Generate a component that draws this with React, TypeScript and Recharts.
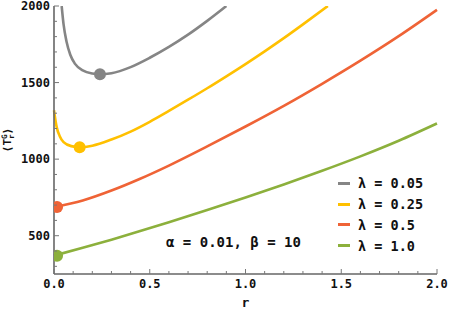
import {
  ComposedChart,
  Line,
  XAxis,
  YAxis,
  ReferenceDot,
} from "recharts";

// curves: r on x, <T_r^G> on y
const gray = [
  { r: 0.04, v: 2000 }, { r: 0.05, v: 1880 }, { r: 0.065, v: 1770 },
  { r: 0.085, v: 1682 }, { r: 0.11, v: 1622 }, { r: 0.15, v: 1580 },
  { r: 0.2, v: 1559 }, { r: 0.24, v: 1554 }, { r: 0.3, v: 1561 },
  { r: 0.4, v: 1601 }, { r: 0.5, v: 1662 }, { r: 0.6, v: 1733 },
  { r: 0.7, v: 1813 }, { r: 0.8, v: 1903 }, { r: 0.9, v: 2000 },
];
const yellow = [
  { r: 0, v: 1319 }, { r: 0.014, v: 1209 }, { r: 0.03, v: 1150 },
  { r: 0.05, v: 1111 }, { r: 0.09, v: 1085 }, { r: 0.134, v: 1078 },
  { r: 0.2, v: 1088 }, { r: 0.3, v: 1128 }, { r: 0.4, v: 1180 },
  { r: 0.5, v: 1244 }, { r: 0.6, v: 1315 }, { r: 0.7, v: 1388 },
  { r: 0.8, v: 1463 }, { r: 0.9, v: 1541 }, { r: 1.0, v: 1621 },
  { r: 1.1, v: 1704 }, { r: 1.2, v: 1790 }, { r: 1.3, v: 1880 },
  { r: 1.43, v: 2000 },
];
const orange = [
  { r: 0, v: 686 }, { r: 0.15, v: 730 }, { r: 0.3, v: 795 },
  { r: 0.45, v: 872 }, { r: 0.6, v: 958 }, { r: 0.8, v: 1083 },
  { r: 1.0, v: 1213 }, { r: 1.2, v: 1348 }, { r: 1.4, v: 1492 },
  { r: 1.6, v: 1643 }, { r: 1.8, v: 1803 }, { r: 2.0, v: 1975 },
];
const green = [
  { r: 0, v: 370 }, { r: 0.15, v: 421 }, { r: 0.3, v: 474 },
  { r: 0.45, v: 530 }, { r: 0.6, v: 588 }, { r: 0.8, v: 668 },
  { r: 1.0, v: 750 }, { r: 1.2, v: 835 }, { r: 1.4, v: 924 },
  { r: 1.6, v: 1018 }, { r: 1.8, v: 1120 }, { r: 2.0, v: 1233 },
];

const lambdas = ["0.05", "0.25", "0.5", "1.0"];
const colors = ["#858585", "#ffc000", "#ef6336", "#8cb03c"];
const curves = [gray, yellow, orange, green];
// minimum of each curve
const minima = [
  { r: 0.24, v: 1555 },
  { r: 0.134, v: 1078 },
  { r: 0.016, v: 687 },
  { r: 0.016, v: 369 },
];

const xTicks = [
  0, 0.1, 0.2, 0.3, 0.4, 0.5, 0.6, 0.7, 0.8, 0.9, 1.0,
  1.1, 1.2, 1.3, 1.4, 1.5, 1.6, 1.7, 1.8, 1.9, 2.0,
];
const yTicks = [
  300, 400, 500, 600, 700, 800, 900, 1000, 1100, 1200, 1300, 1400,
  1500, 1600, 1700, 1800, 1900, 2000,
];

const font = "'DejaVu Sans Mono', monospace";

const isMajorX = (v: number) => Math.abs(v * 2 - Math.round(v * 2)) < 1e-6;
const isMajorY = (v: number) => v % 500 === 0;

const BottomTick = (props: any) => {
  const { x, y, payload } = props;
  const major = isMajorX(payload.value);
  return (
    <g>
      <line x1={x} x2={x} y1={y} y2={y - (major ? 5 : 3)} stroke="#777" strokeWidth={1} />
      {major && (
        <text x={x} y={y + 14} textAnchor="middle" fontFamily={font} fontWeight="bold" fontSize={12} fill="#111">
          {payload.value.toFixed(1)}
        </text>
      )}
    </g>
  );
};

const TopTick = (props: any) => {
  const { x, y, payload } = props;
  const major = isMajorX(payload.value);
  return <line x1={x} x2={x} y1={y} y2={y + (major ? 5 : 3)} stroke="#bbb" strokeWidth={1} />;
};

const LeftTick = (props: any) => {
  const { x, y, payload } = props;
  const major = isMajorY(payload.value);
  return (
    <g>
      <line x1={x} x2={x + (major ? 5 : 3)} y1={y} y2={y} stroke="#777" strokeWidth={1} />
      {major && (
        <text x={x - 4} y={y + 4} textAnchor="end" fontFamily={font} fontWeight="bold" fontSize={12} fill="#111">
          {payload.value}
        </text>
      )}
    </g>
  );
};

const RightTick = (props: any) => {
  const { x, y, payload } = props;
  const major = isMajorY(payload.value);
  return <line x1={x} x2={x - (major ? 5 : 3)} y1={y} y2={y} stroke="#bbb" strokeWidth={1} />;
};

const YLabel = (props: any) => {
  const { viewBox } = props;
  const cx = viewBox.x + 11;
  const cy = viewBox.y + viewBox.height / 2;
  return (
    <text
      transform={`translate(${cx},${cy}) rotate(-90)`}
      textAnchor="middle"
      fontFamily={font}
      fontWeight="bold"
      fontSize={11}
      fill="#111"
    >
      <tspan>⟨</tspan>
      <tspan>T</tspan>
      <tspan fontSize={7.5} dy={3}>r</tspan>
      <tspan fontSize={7.5} dx={-4.5} dy={-7.5}>G</tspan>
      <tspan dy={4.5}>⟩</tspan>
    </text>
  );
};

export default function App() {
  return (
    <div style={{ position: "absolute", left: 0, top: 0, width: 450, height: 309, background: "#fff" }}>
      <ComposedChart width={450} height={309} margin={{ top: 6, right: 13, bottom: 0, left: 0 }}>
        <XAxis
          dataKey="r"
          type="number"
          domain={[0, 2]}
          ticks={xTicks}
          interval={0}
          height={35}
          tickSize={0}
          tickMargin={0}
          tickLine={false}
          axisLine={{ stroke: "#666", strokeWidth: 1.6 }}
          tick={BottomTick}
          label={{ value: "r", position: "insideBottom", offset: 2, fontFamily: font, fontWeight: "bold", fontSize: 13, fill: "#111" }}
        />
        <XAxis
          xAxisId="top"
          orientation="top"
          type="number"
          domain={[0, 2]}
          ticks={xTicks}
          interval={0}
          height={0}
          tickSize={0}
          tickMargin={0}
          tickLine={false}
          axisLine={{ stroke: "#111", strokeWidth: 1 }}
          tick={TopTick}
        />
        <YAxis
          dataKey="v"
          type="number"
          domain={[250, 2000]}
          allowDataOverflow
          ticks={yTicks}
          interval={0}
          width={54}
          tickSize={0}
          tickMargin={0}
          tickLine={false}
          axisLine={{ stroke: "#666", strokeWidth: 1.6 }}
          tick={LeftTick}
          label={{ content: YLabel }}
        />
        <YAxis
          yAxisId="right"
          orientation="right"
          type="number"
          domain={[250, 2000]}
          ticks={yTicks}
          interval={0}
          width={0}
          tickSize={0}
          tickMargin={0}
          tickLine={false}
          axisLine={{ stroke: "#111", strokeWidth: 1 }}
          tick={RightTick}
        />
        {curves.map((d, i) => (
          <Line
            key={lambdas[i]}
            data={d}
            dataKey="v"
            type="monotone"
            stroke={colors[i]}
            strokeWidth={2.6}
            dot={false}
            isAnimationActive={false}
          />
        ))}
        {minima.map((m, i) => (
          <ReferenceDot
            key={lambdas[i]}
            x={m.r}
            y={m.v}
            r={6}
            fill={colors[i]}
            stroke="none"
            ifOverflow="hidden"
          />
        ))}
      </ComposedChart>
      <div
        style={{
          position: "absolute",
          left: 338,
          top: 173,
          fontFamily: font,
          fontWeight: "bold",
          fontSize: 13.5,
          color: "#111",
        }}
      >
        {lambdas.map((l, i) => (
          <div key={l} style={{ display: "flex", alignItems: "center", height: 20.8 }}>
            <span style={{ display: "inline-block", width: 12, height: 3, background: colors[i], marginRight: 8 }} />
            <span style={{ whiteSpace: "pre" }}>{`λ = ${l}`}</span>
          </div>
        ))}
      </div>
      <div
        style={{
          position: "absolute",
          left: 166,
          top: 234,
          fontFamily: font,
          fontWeight: "bold",
          fontSize: 14,
          color: "#111",
          whiteSpace: "pre",
        }}
      >
        {"α = 0.01, β = 10"}
      </div>
    </div>
  );
}
